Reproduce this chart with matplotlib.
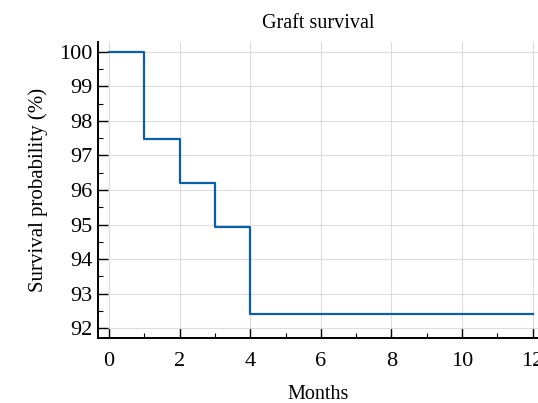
import matplotlib
matplotlib.use("Agg")
import matplotlib.pyplot as plt
from matplotlib.ticker import MultipleLocator

# Kaplan-Meier steps (months, survival %)
months = [0, 1, 2, 3, 4, 12]
survival = [100.0, 97.47, 96.20, 94.94, 92.41, 92.41]

xticks = [0, 2, 4, 6, 8, 10, 12]
yticks = [92, 93, 94, 95, 96, 97, 98, 99, 100]

plt.rcParams["font.family"] = ["Liberation Serif", "DejaVu Serif"]

fig = plt.figure(figsize=(5.38, 4.03), dpi=100)
ax = fig.add_axes([98 / 538, 1 - 338 / 403, 440 / 538, 296 / 403])

ax.step(months, survival, where="post", color="#0a5fab", lw=1.6)

ax.set_xlim(-0.31, 12.15)
ax.set_ylim(91.72, 100.28)
ax.set_xticks(xticks)
ax.set_yticks(yticks)
ax.xaxis.set_minor_locator(MultipleLocator(1))
ax.yaxis.set_minor_locator(MultipleLocator(0.5))
ax.tick_params(which="major", direction="in", length=7, width=1, labelsize=16)
ax.tick_params(axis="x", which="major", pad=10)
ax.tick_params(axis="y", which="major", pad=4)
ax.tick_params(which="minor", direction="in", length=3.5, width=0.8)
ax.grid(True, which="major", color="#dcdcdc", lw=0.8)

for side in ["top", "right"]:
    ax.spines[side].set_visible(False)
for side in ["left", "bottom"]:
    ax.spines[side].set_linewidth(1.4)

ax.set_title("Graft survival", fontsize=14.5, pad=10)
ax.set_xlabel("Months", fontsize=14.5, labelpad=10)
ax.set_ylabel("Survival probability (%)", fontsize=15, labelpad=8)

fig.savefig("out.png", dpi=100)
